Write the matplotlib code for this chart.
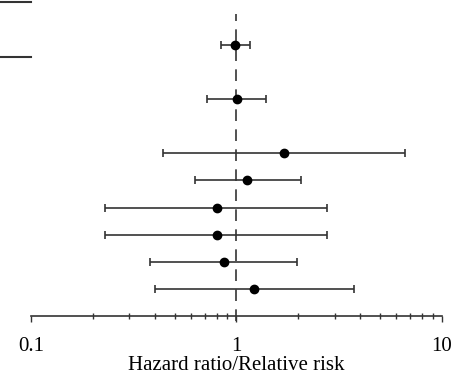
import matplotlib.pyplot as plt
import numpy as np
from matplotlib.lines import Line2D
from matplotlib.ticker import LogLocator, NullFormatter, FixedLocator

# forest plot values
rows = [0, 2, 4, 5, 6, 7, 8, 9]
hr = [0.98, 1.01, 1.70, 1.13, 0.80, 0.80, 0.87, 1.22]
lo = [0.84, 0.72, 0.44, 0.63, 0.23, 0.23, 0.38, 0.40]
hi = [1.16, 1.39, 6.6, 2.05, 2.75, 2.75, 1.97, 3.75]
xticks = [0.1, 1, 10]
xticklabels = ['0.1', '1', '10']

plt.rcParams['font.family'] = ['Liberation Serif', 'DejaVu Serif']

fig = plt.figure(figsize=(4.6, 3.76), dpi=100)
ax = fig.add_axes([31/460, 1-316/376, (442-31)/460, (316-14)/376])

hr_a = np.array(hr); lo_a = np.array(lo); hi_a = np.array(hi)
ax.axvline(1, color='#333333', lw=1.2, ls=(0, (7, 5)), ymin=-0.015, clip_on=False, zorder=1)
ax.errorbar(hr_a, rows, xerr=[hr_a-lo_a, hi_a-hr_a], fmt='o', color='black',
            ecolor='#333333', elinewidth=1.2, capsize=3, capthick=1.2,
            markersize=6, zorder=3)

ax.set_xscale('log')
ax.set_xlim(0.1, 10)
ax.set_ylim(10, -1.14)
ax.xaxis.set_major_locator(FixedLocator(xticks))
ax.set_xticklabels(xticklabels)
ax.xaxis.set_minor_locator(LogLocator(base=10, subs=np.arange(2, 10)))
ax.xaxis.set_minor_formatter(NullFormatter())
ax.tick_params(axis='x', which='minor', direction='inout', length=4, width=1, color='#333333')
ax.tick_params(axis='x', which='major', direction='out', length=4, width=1, color='#333333',
               labelsize=15, pad=11)
ax.set_yticks([])
for s in ['left', 'top', 'right']:
    ax.spines[s].set_visible(False)
ax.spines['bottom'].set_color('#333333')
ax.spines['bottom'].set_linewidth(1.2)
ax.set_xlabel('Hazard ratio/Relative risk', fontsize=15, labelpad=0)

# short table rules at the top left
for yy in [1-2/376, 1-57/376]:
    fig.add_artist(Line2D([0, 31/460], [yy, yy], color='#333333', lw=1.5))

fig.savefig('out.png', dpi=100)
